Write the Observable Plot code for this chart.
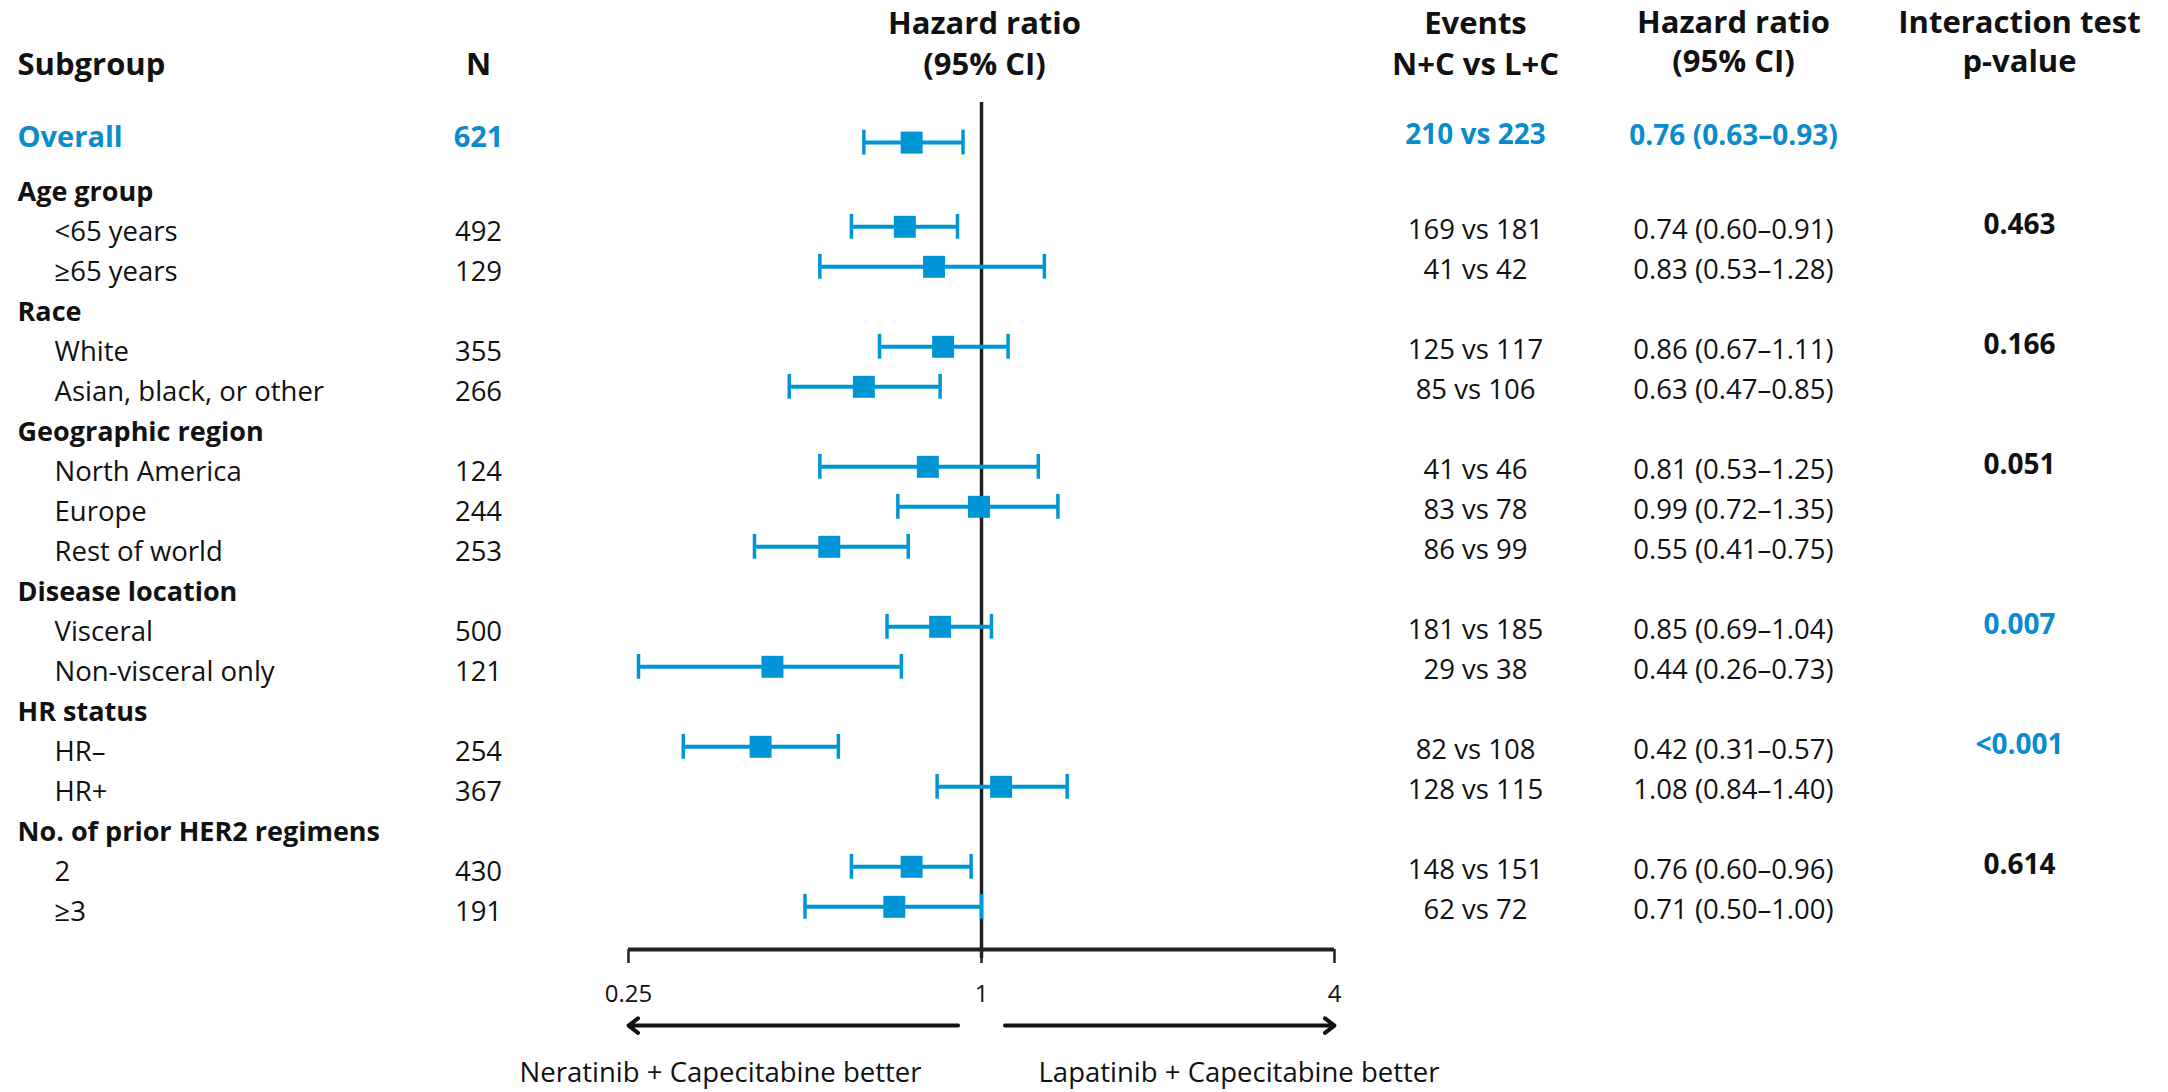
<!DOCTYPE html>
<html>
<head>
<meta charset="utf-8">
<script src="https://cdn.jsdelivr.net/npm/d3@7"></script>
<script src="https://cdn.jsdelivr.net/npm/@observablehq/plot@0.6"></script>
<style>
  html, body { margin: 0; padding: 0; background: #fff; }
  #chart svg { display: block; }
</style>
</head>
<body>
<div id="chart"></div>
<script>
// ---------------- data ----------------
const subgroups = ["Overall", "Age group", "<65 years", "≥65 years", "Race", "White", "Asian, black, or other",
  "Geographic region", "North America", "Europe", "Rest of world", "Disease location", "Visceral",
  "Non-visceral only", "HR status", "HR–", "HR+", "No. of prior HER2 regimens", "2", "≥3"];
const rowKinds = ["overall", "group", "item", "item", "group", "item", "item", "group", "item", "item", "item",
  "group", "item", "item", "group", "item", "item", "group", "item", "item"];
const nPatients = [621, null, 492, 129, null, 355, 266, null, 124, 244, 253, null, 500, 121, null, 254, 367, null, 430, 191];
const hazardRatio = [0.76, null, 0.74, 0.83, null, 0.86, 0.63, null, 0.81, 0.99, 0.55, null, 0.85, 0.44, null, 0.42, 1.08, null, 0.76, 0.71];
const ciLower = [0.63, null, 0.60, 0.53, null, 0.67, 0.47, null, 0.53, 0.72, 0.41, null, 0.69, 0.26, null, 0.31, 0.84, null, 0.60, 0.50];
const ciUpper = [0.93, null, 0.91, 1.28, null, 1.11, 0.85, null, 1.25, 1.35, 0.75, null, 1.04, 0.73, null, 0.57, 1.40, null, 0.96, 1.00];
const eventsNC = [210, null, 169, 41, null, 125, 85, null, 41, 83, 86, null, 181, 29, null, 82, 128, null, 148, 62];
const eventsLC = [223, null, 181, 42, null, 117, 106, null, 46, 78, 99, null, 185, 38, null, 108, 115, null, 151, 72];
const pInteraction = [null, null, "0.463", null, null, "0.166", null, null, "0.051", null, null, null, "0.007", null, null, "<0.001", null, null, "0.614", null];
const pSignificant = [false, false, false, false, false, false, false, false, false, false, false, false, true, false, false, true, false, false, false, false];
const xTicks = [0.25, 1, 4];
const directionLabels = ["Neratinib + Capecitabine better", "Lapatinib + Capecitabine better"];
const headerLines = [
  {text: "Subgroup", col: "subgroup", line: "single", anchor: "start"},
  {text: "N", col: "n", line: "single", anchor: "middle"},
  {text: "Hazard ratio", col: "forest", line: "top", anchor: "middle"},
  {text: "(95% CI)", col: "forest", line: "bottom", anchor: "middle"},
  {text: "Events", col: "events", line: "top", anchor: "middle"},
  {text: "N+C vs L+C", col: "events", line: "bottom", anchor: "middle"},
  {text: "Hazard ratio", col: "hr", line: "topTight", anchor: "middle"},
  {text: "(95% CI)", col: "hr", line: "bottomTight", anchor: "middle"},
  {text: "Interaction test", col: "p", line: "topTight", anchor: "middle"},
  {text: "p-value", col: "p", line: "bottomTight", anchor: "middle"}
];

// ---------------- layout ----------------
const BLUE = "#0096d6";
const BLUE_TEXT = "#0a8bcc";
const INK = "#111";
const LINE = "#222";
const FONT = "'Open Sans', 'DejaVu Sans', sans-serif";
const colX = {subgroup: 17, indent: 54, n: 478, events: 1475, hr: 1733, p: 2019};
const headerRow = {single: -3.17, top: -4.2, bottom: -3.17, topTight: -4.23, bottomTight: -3.25};
const overallRow = -1.36;
const axisRow = 18.94;
const arrowRow = 20.84;
const labelRow = 22.02;
const capHalf = 0.31;

const rows = subgroups.map((label, i) => ({
  label,
  kind: rowKinds[i],
  n: nPatients[i],
  hr: hazardRatio[i],
  lo: ciLower[i],
  hi: ciUpper[i],
  evN: eventsNC[i],
  evL: eventsLC[i],
  p: pInteraction[i],
  sig: pSignificant[i],
  row: i === 0 ? overallRow : i - 1
}));
rows.forEach(d => { d.mrow = d.row + (d.kind === "overall" ? 0.125 : -0.13); });
const est = rows.filter(d => d.hr != null);
const caps = est.flatMap(d => [{x: d.lo, m: d.mrow}, {x: d.hi, m: d.mrow}]);
const fmt = v => v.toFixed(2);
const overall = rows.filter(d => d.kind === "overall");
const groups = rows.filter(d => d.kind === "group");
const items = rows.filter(d => d.kind === "item");

const leftText = (data, opts) => Plot.text(data, {frameAnchor: "left", y: "row", ...opts});

const chart = Plot.plot({
  width: 2168,
  height: 1092,
  marginLeft: 0,
  marginRight: 0,
  marginTop: 102,
  marginBottom: 143,
  style: {fontFamily: FONT, background: "#fff", color: INK},
  x: {type: "log", domain: [xTicks[0], xTicks[2]], range: [628, 1334]},
  y: {type: "linear", domain: [0, 18], range: [191.5, 911.5], axis: null},
  marks: [
    // reference line at HR = 1
    Plot.ruleX([xTicks[1]], {stroke: LINE, strokeWidth: 3.5, insetBottom: -9}),
    // axis
    Plot.ruleY([axisRow], {x1: xTicks[0], x2: xTicks[2], stroke: LINE, strokeWidth: 4}),
    Plot.axisX({ticks: xTicks, tickSize: 14, tickPadding: 21, strokeWidth: 2.5, stroke: LINE, color: INK,
      fontSize: 24, tickFormat: d => String(d), label: null}),
    // direction arrows
    Plot.arrow([xTicks[0], xTicks[2]], {x1: () => xTicks[1], x2: d => d, y1: arrowRow, y2: arrowRow,
      insetStart: 23.5, headLength: 4.5, headAngle: 75, stroke: INK, strokeWidth: 4}),
    Plot.text([directionLabels[0]], {x: xTicks[1], y: labelRow, text: d => d, textAnchor: "end", dx: -60,
      fontSize: 27.5, fill: INK}),
    Plot.text([directionLabels[1]], {x: xTicks[1], y: labelRow, text: d => d, textAnchor: "start", dx: 57,
      fontSize: 27.5, fill: INK}),
    // confidence intervals and estimates
    Plot.ruleY(est, {y: "mrow", x1: "lo", x2: "hi", stroke: BLUE, strokeWidth: 4}),
    Plot.ruleX(caps, {x: "x", y1: d => d.m - capHalf, y2: d => d.m + capHalf, stroke: BLUE, strokeWidth: 3.5}),
    Plot.dot(est, {x: "hr", y: "mrow", symbol: "square", r: 12.4, fill: BLUE, stroke: null}),
    // headers
    ...headerLines.filter(h => h.col !== "forest").map(h =>
      Plot.text([h], {frameAnchor: "left", dx: colX[h.col], y: d => headerRow[d.line], text: "text",
        textAnchor: h.anchor, fontWeight: 700, fontSize: 31, fill: INK})),
    Plot.text(headerLines.filter(h => h.col === "forest"), {x: xTicks[1], dx: 3, y: d => headerRow[d.line],
      text: "text", textAnchor: "middle", fontWeight: 700, fontSize: 31, fill: INK}),
    // subgroup column
    leftText(overall, {text: "label", dx: colX.subgroup, textAnchor: "start", fontWeight: 700, fontSize: 29, fill: BLUE_TEXT}),
    leftText(groups, {text: "label", dx: colX.subgroup, textAnchor: "start", fontWeight: 700, fontSize: 27, fill: INK}),
    leftText(items, {text: "label", dx: colX.indent, textAnchor: "start", fontSize: 27.5, fill: INK}),
    // N column
    leftText(overall, {text: d => String(d.n), dx: colX.n, textAnchor: "middle", fontWeight: 700, fontSize: 29, fill: BLUE_TEXT}),
    leftText(items, {text: d => String(d.n), dx: colX.n, textAnchor: "middle", fontSize: 27.5, fill: INK}),
    // events column
    leftText(overall, {text: d => `${d.evN} vs ${d.evL}`, dx: colX.events, dy: -3, textAnchor: "middle", fontWeight: 700, fontSize: 28, fill: BLUE_TEXT}),
    leftText(items, {text: d => `${d.evN} vs ${d.evL}`, dx: colX.events, dy: -2, textAnchor: "middle", fontSize: 27.5, fill: INK}),
    // HR (95% CI) column
    leftText(overall, {text: d => `${fmt(d.hr)} (${fmt(d.lo)}–${fmt(d.hi)})`, dx: colX.hr, dy: -2, textAnchor: "middle", fontWeight: 700, fontSize: 28, fill: BLUE_TEXT}),
    leftText(items, {text: d => `${fmt(d.hr)} (${fmt(d.lo)}–${fmt(d.hi)})`, dx: colX.hr, dy: -2, textAnchor: "middle", fontSize: 27.5, fill: INK}),
    // interaction p-values
    leftText(rows.filter(d => d.p && !d.sig), {text: "p", dx: colX.p, dy: -7, textAnchor: "middle", fontWeight: 700, fontSize: 28, fill: INK}),
    leftText(rows.filter(d => d.p && d.sig), {text: "p", dx: colX.p, dy: -7, textAnchor: "middle", fontWeight: 700, fontSize: 28, fill: BLUE_TEXT})
  ]
});
document.getElementById("chart").append(chart);
</script>
</body>
</html>
